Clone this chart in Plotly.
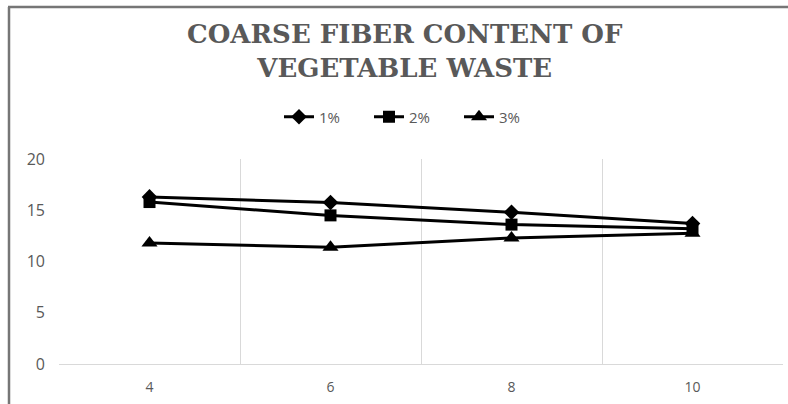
import plotly.graph_objects as go

categories = ["4", "6", "8", "10"]
s1 = [16.3, 15.75, 14.8, 13.7]
s2 = [15.8, 14.5, 13.6, 13.2]
s3 = [11.8, 11.4, 12.3, 12.75]
series_names = ["1%", "2%", "3%"]
y_ticks = [0, 5, 10, 15, 20]

symbols = ["diamond", "square", "triangle-up"]
sizes = [12, 12, 14]

fig = go.Figure()
for name, vals, sym, sz in zip(series_names, [s1, s2, s3], symbols, sizes):
    fig.add_trace(go.Scatter(
        x=categories, y=vals, name=name, mode="lines+markers",
        line=dict(color="black", width=3),
        marker=dict(symbol=sym, size=sz, color="black"),
    ))

W, H = 788, 404
L, R, T, B = 59, 5, 159, 40
pw, ph = W - L - R, H - T - B

def px_to_paper_x(px):
    return (px - L) / pw

def px_to_paper_y(py):
    return (H - B - py) / ph

fig.update_layout(
    width=W, height=H,
    margin=dict(l=L, r=R, t=T, b=B),
    paper_bgcolor="white", plot_bgcolor="white",
    legend=dict(
        orientation="h", x=px_to_paper_x(414), xanchor="center",
        y=px_to_paper_y(117), yanchor="middle",
        font=dict(family="Open Sans", size=15, color="#595959"),
        entrywidth=45, entrywidthmode="pixels",
        bgcolor="rgba(0,0,0,0)",
    ),
    showlegend=True,
)

fig.add_annotation(
    text="<b>COARSE FIBER CONTENT OF<br>VEGETABLE WASTE</b>",
    font=dict(family="DejaVu Serif", size=26, color="#595959"),
    xref="paper", yref="paper",
    x=px_to_paper_x(405), xanchor="center",
    y=px_to_paper_y(51), yanchor="middle",
    showarrow=False, align="center",
)

fig.update_xaxes(
    type="category", range=[-0.5, 3.5], tickson="boundaries",
    showgrid=True, gridcolor="#d9d9d9", gridwidth=1,
    showline=True, linecolor="#d9d9d9", linewidth=1,
    ticks="", tickfont=dict(family="Open Sans", size=14, color="#595959"),
    ticklabelstandoff=10,
    zeroline=False, fixedrange=True,
)
fig.update_yaxes(
    range=[0, 20], tickvals=y_ticks, showgrid=False,
    showline=False, zeroline=False, ticks="",
    tickfont=dict(family="Open Sans", size=16, color="#595959"),
    ticklabelstandoff=13,
)

# chart frame (top and left edges visible)
fig.add_shape(type="line", xref="paper", yref="paper",
              x0=px_to_paper_x(9), x1=px_to_paper_x(9),
              y0=px_to_paper_y(404), y1=px_to_paper_y(7),
              line=dict(color="#767676", width=2.5))
fig.add_shape(type="line", xref="paper", yref="paper",
              x0=px_to_paper_x(8), x1=px_to_paper_x(788),
              y0=px_to_paper_y(7), y1=px_to_paper_y(7),
              line=dict(color="#767676", width=2.5))

fig.write_html("out.html", config={"displayModeBar": False},
               post_script="document.body.style.margin='0';")
